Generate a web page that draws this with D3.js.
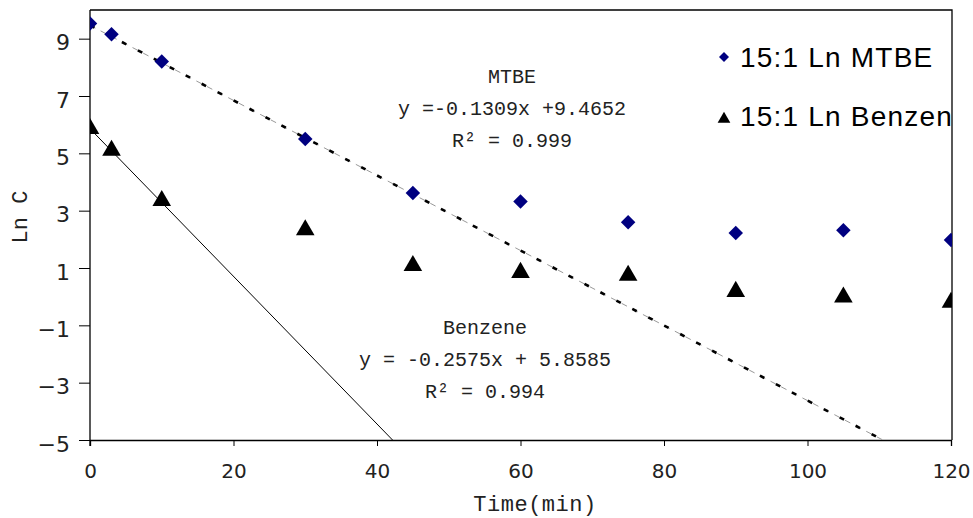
<!DOCTYPE html>
<html><head><meta charset="utf-8">
<script src="https://cdn.jsdelivr.net/npm/d3@7"></script>
<style>body{margin:0;background:#fff}</style></head>
<body><svg id="c" width="973" height="518"></svg>
<script>
const times = [0, 3, 10, 30, 45, 60, 75, 90, 105, 120];
const mtbe = [9.53, 9.15, 8.2, 5.5, 3.62, 3.32, 2.6, 2.22, 2.32, 1.98];
const benzene = [5.86, 5.1, 3.35, 2.33, 1.08, 0.84, 0.74, 0.18, -0.02, -0.2];
const xTicks = [0, 20, 40, 60, 80, 100, 120];
const yTicks = [-5, -3, -1, 1, 3, 5, 7, 9];
const mtbeFit = [-0.1309, 9.4652];
const benzeneFit = [-0.2575, 5.8585];
const mtbeLabel = ["MTBE", "y =-0.1309x +9.4652", "R² = 0.999"];
const benzeneLabel = ["Benzene", "y = -0.2575x + 5.8585", "R² = 0.994"];
const legendNames = ["15:1 Ln MTBE", "15:1 Ln Benzene"];

const svg = d3.select("#c");
const L = 90, R = 951, T = 10, B = 440;
const x = d3.scaleLinear().domain([0, 120]).range([L, R]);
const y = d3.scaleLinear().domain([-5, 10]).range([B, T]);

svg.append("defs").append("clipPath").attr("id", "pc")
  .append("rect").attr("x", L).attr("y", T).attr("width", R - L + 1).attr("height", B - T);

// frame top/right
svg.append("path").attr("d", `M${L},${T}H${R + 1}V${B}`).attr("fill", "none").attr("stroke", "#000").attr("stroke-width", 1.3);

// x axis
const xa = svg.append("g").attr("transform", `translate(0,${B})`)
  .call(d3.axisBottom(x).tickValues(xTicks).tickSize(6).tickPadding(18).tickFormat(d3.format("d")));
xa.select(".domain").attr("stroke-width", 1.3);
xa.selectAll("text").attr("font-family", "DejaVu Sans").attr("font-size", 20).attr("fill", "#222");

// y axis
const ya = svg.append("g").attr("transform", `translate(${L},0)`)
  .call(d3.axisLeft(y).tickValues(yTicks).tickSize(11).tickPadding(9));
ya.select(".domain").attr("d", `M0,${T}V${B + 6}`).attr("stroke-width", 1.3);
ya.selectAll("text").attr("font-family", "DejaVu Sans").attr("font-size", 22).attr("dy", "0.5em").attr("fill", "#222");

const plot = svg.append("g").attr("clip-path", "url(#pc)");

// trend lines
const line = d3.line().x(d => x(d[0])).y(d => y(d[1]));
const fitPts = f => [[0, f[1]], [(-5 - f[1]) / f[0], -5]];
plot.append("path").attr("d", line(fitPts(mtbeFit))).attr("stroke", "#999").attr("stroke-width", 1)
  .attr("stroke-dasharray", "6,6").attr("fill", "none");
plot.append("path").attr("d", line(fitPts(mtbeFit))).attr("stroke", "#000").attr("stroke-width", 2.6)
  .attr("stroke-dasharray", "5,13").attr("fill", "none");
plot.append("path").attr("d", line(fitPts(benzeneFit))).attr("stroke", "#000").attr("stroke-width", 1)
  .attr("fill", "none");

// markers
plot.selectAll(".dm").data(times).join("path")
  .attr("transform", (d, i) => `translate(${x(d)},${y(mtbe[i])}) rotate(45)`)
  .attr("d", d3.symbol().type(d3.symbolSquare).size(105)).attr("fill", "#000080");
plot.selectAll(".tr").data(times).join("path")
  .attr("transform", (d, i) => `translate(${x(d)},${y(benzene[i])})`)
  .attr("d", d3.symbol().type(d3.symbolTriangle).size(150)).attr("fill", "#000");

// annotations
function annot(lbl, cx, y0) {
  const g = svg.append("g").attr("font-family", "Liberation Mono").attr("font-size", 20).attr("fill", "#222").attr("text-anchor", "middle");
  lbl.forEach((t, i) => g.append("text").attr("x", cx).attr("y", y0 + i * 32).text(t));
}
annot(mtbeLabel, 512, 83);
annot(benzeneLabel, 485, 334);

// legend
const lg = plot.append("g");
lg.append("path").attr("transform", `translate(724,57) rotate(45)`).attr("d", d3.symbol().type(d3.symbolSquare).size(50)).attr("fill", "#000080");
lg.append("path").attr("transform", `translate(724,119)`).attr("d", d3.symbol().type(d3.symbolTriangle).size(70)).attr("fill", "#000");
legendNames.forEach((t, i) =>
  lg.append("text").attr("x", 740).attr("y", 67 + i * 59)
    .attr("font-family", "Liberation Sans").attr("font-size", 28).attr("letter-spacing", 1.2)
    .attr("fill", "#000").text(t));

// axis titles
svg.append("text").attr("transform", "translate(27,217) rotate(-90)").attr("text-anchor", "middle")
  .attr("font-family", "Liberation Mono").attr("font-size", 22).attr("fill", "#222").text("Ln C");
svg.append("text").attr("x", 535).attr("y", 511).attr("text-anchor", "middle")
  .attr("font-family", "Liberation Mono").attr("font-size", 22).attr("letter-spacing", 0.5).attr("fill", "#222").text("Time(min)");
</script></body></html>
